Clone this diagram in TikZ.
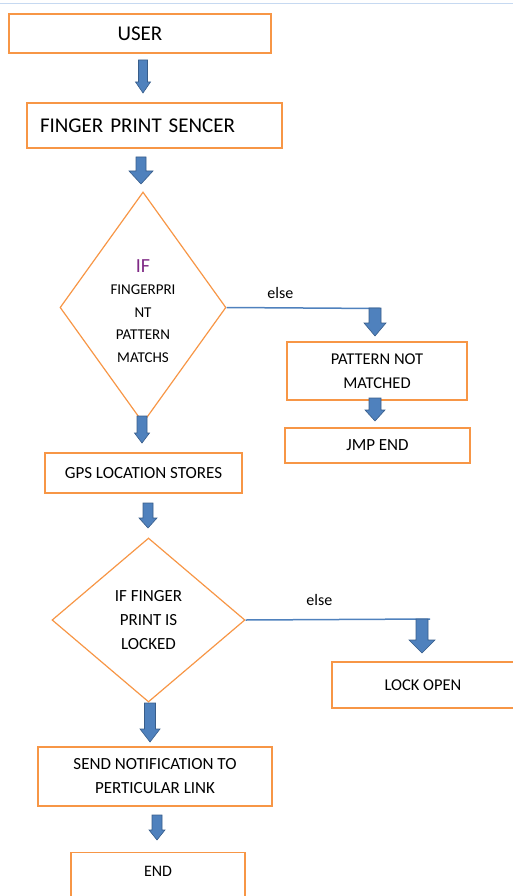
\documentclass[tikz,border=0pt]{standalone}
\usepackage{fontspec}
\setmainfont{Carlito}
\usetikzlibrary{shapes.geometric}
\definecolor{boxorange}{HTML}{F79646}
\definecolor{arrowblue}{HTML}{4F81BD}
\definecolor{arrowedge}{HTML}{385D8A}
\definecolor{rulerblue}{HTML}{C6D9F1}
\definecolor{ifpurple}{HTML}{7F2A86}
% x, top, bottom, half shaft, half head, head length
\newcommand{\bluearr}[6]{\filldraw[fill=arrowblue, draw=arrowedge, line width=0.6pt]
  ({#1-#4},#2) -- ({#1+#4},#2) -- ({#1+#4},{#3-#6}) -- ({#1+#5},{#3-#6})
  -- (#1,#3) -- ({#1-#5},{#3-#6}) -- ({#1-#4},{#3-#6}) -- cycle;}
\begin{document}
\begin{tikzpicture}[x=1pt, y=-1pt,
  box/.style={draw=boxorange, line width=1.4pt, rectangle, inner sep=0pt, align=center, font=\fontsize{17}{24}\selectfont},
  decision/.style={draw=boxorange, line width=1.2pt, diamond, inner sep=0pt, align=center, font=\fontsize{17}{24}\selectfont},
  link/.style={draw=arrowblue, line width=1.5pt},
  elsetext/.style={font=\fontsize{16}{18}\selectfont}]
\useasboundingbox (0,0) rectangle (513,896);
\clip (0,0) rectangle (513,896);
\draw[rulerblue, line width=1pt] (0,4) -- (513,4);
\node[box, minimum width=262pt, minimum height=39pt, font=\fontsize{21}{25}\selectfont] (user) at (140,33.5) {USER};
\node[box, minimum width=255pt, minimum height=45pt, font=\fontsize{21}{25}\selectfont, text width=229pt, align=left] (sensor) at (154.5,125.5) {FINGER PRINT SENCER};
\node[decision, minimum width=166pt, minimum height=231pt] (match) at (143,307.5) {};
% text kept apart, the diamond would grow round it
\node[align=center, font=\fontsize{15}{22.5}\selectfont] (matchtxt) at (143,311) {{\fontsize{20}{22}\selectfont\color{ifpurple}IF}\\FINGERPRI\\NT\\PATTERN\\MATCHS};
\node[box, minimum width=180pt, minimum height=58pt, font=\fontsize{16.5}{24}\selectfont] (nomatch) at (377,371) {PATTERN NOT\\MATCHED};
\node[box, minimum width=185pt, minimum height=35pt] (jmp) at (377.5,445.5) {JMP END};
\node[box, minimum width=197pt, minimum height=40pt] (gps) at (143.5,473) {GPS LOCATION STORES};
\node[decision, minimum width=193pt, minimum height=164pt] (locked) at (148.5,620) {IF FINGER\\PRINT IS\\LOCKED};
\node[box, minimum width=182pt, minimum height=46pt, font=\fontsize{16.5}{24}\selectfont] (lock) at (423,685) {LOCK OPEN};
\node[box, minimum width=234pt, minimum height=59pt] (send) at (155,776.5) {SEND NOTIFICATION TO\\PERTICULAR LINK};
\node[box, minimum width=174pt, anchor=north, inner ysep=12pt, text height=12pt, text depth=30pt, font=\fontsize{16}{24}\selectfont] (end) at (158,852) {END};
\coordinate (elseA) at (380,308.5);
\coordinate (elseB) at (430,619);
\draw[link] (match.east) -- (elseA) node[pos=0.35, above=5pt, elsetext] {else};
\draw[link] (locked.east) -- (elseB) node[pos=0.4, above=10pt, elsetext] {else};
\bluearr{143}{60}{93}{4.5}{7.5}{11}
\bluearr{141}{157}{184}{5}{12}{13}
\bluearr{375}{308}{336}{6}{11}{13}
\bluearr{142}{416}{443}{5}{7.5}{10}
\bluearr{375}{398}{421}{6}{10}{11}
\bluearr{148}{503}{528}{5}{9}{10}
\bluearr{422}{619}{653}{6}{13}{13}
\bluearr{150}{703}{742}{5.5}{10}{13}
\bluearr{157}{815}{840}{5}{8}{10}
\end{tikzpicture}
\end{document}
